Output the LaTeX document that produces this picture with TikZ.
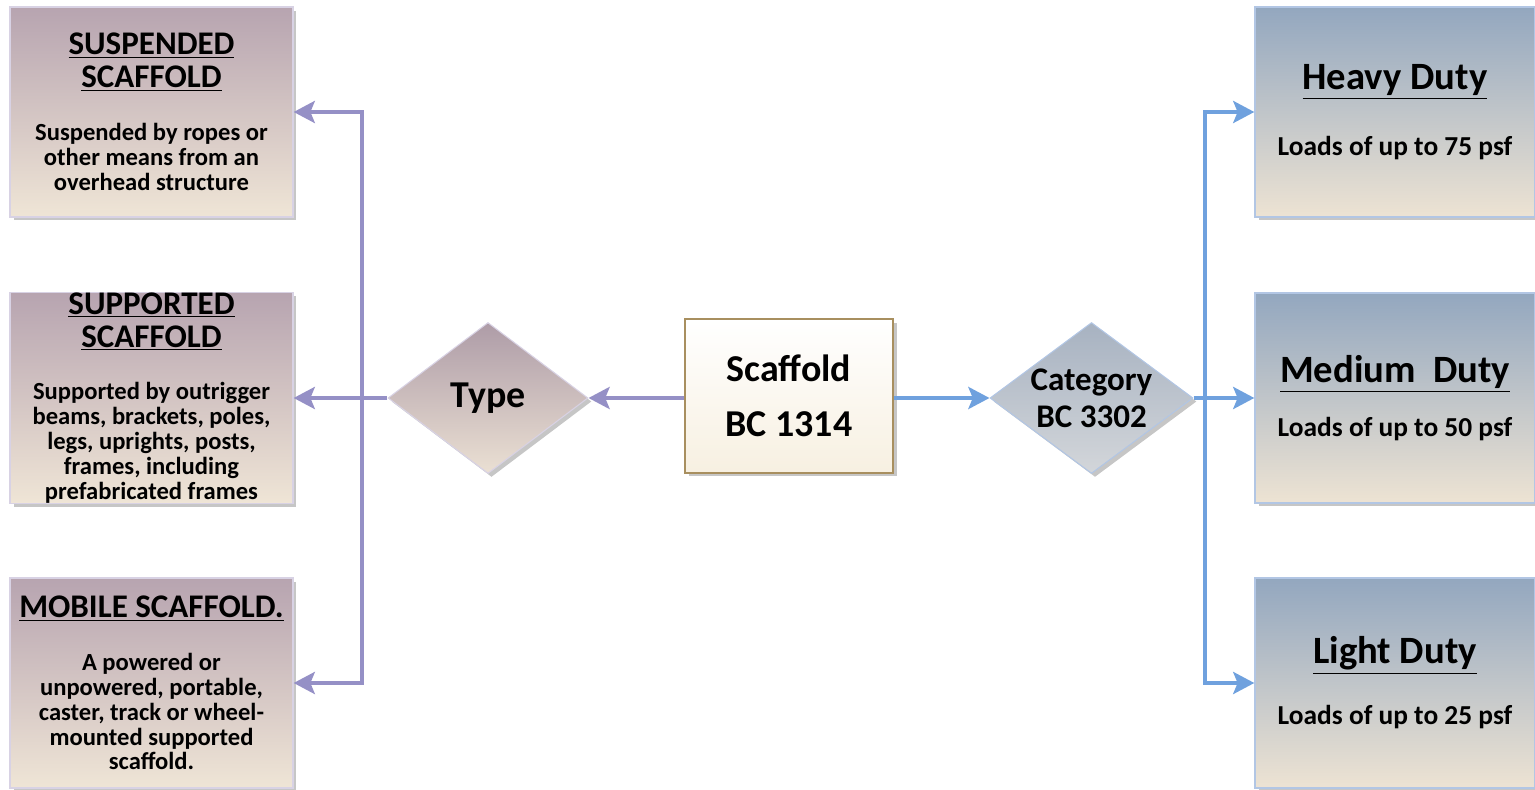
\documentclass[tikz,border=0pt]{standalone}
\usepackage{fontspec}
\setmainfont{Carlito}
\usepackage{xcolor}
\usepackage{tikz}
\usetikzlibrary{arrows.meta,positioning,calc,shapes.geometric,shadows}
\setlength{\parindent}{0pt}
\definecolor{tmauve}{HTML}{B7A4B0}
\definecolor{tbeige}{HTML}{EFE5D6}
\definecolor{tedge}{HTML}{D8D2E4}
\definecolor{csteel}{HTML}{93A7BF}
\definecolor{cbeige}{HTML}{EDE3D3}
\definecolor{cedge}{HTML}{B2C6E4}
\definecolor{cgray}{HTML}{A7B2C1}
\definecolor{cpale}{HTML}{D3D6DA}
\definecolor{tline}{HTML}{9590C6}
\definecolor{cline}{HTML}{6FA1DE}
\definecolor{sedge}{HTML}{A88F5F}
\definecolor{scream}{HTML}{F7F0E1}
\newcommand{\ttlfont}{\fontsize{18.8}{18.8}\selectfont}
\newcommand{\txtfont}{\fontsize{14}{14.2}\selectfont}
\newcommand{\bigttl}{\fontsize{22}{22}\selectfont}
\newcommand{\bigtxt}{\fontsize{15.6}{15.6}\selectfont}
\newcommand{\dutytext}[3]{{\bigttl\underline{#1}\par}\vspace{#2}{\bigtxt #3\par}}
\tikzset{
  shade box/.style={drop shadow={shadow xshift=2pt, shadow yshift=-2pt, opacity=0.45}},
  typebox/.style={rectangle, draw=tedge, line width=0.8pt, top color=tmauve, bottom color=tbeige,
    minimum width=5.66cm, minimum height=4.2cm, text width=5.6cm, inner sep=0pt,
    align=flush center, font=\bfseries, shade box},
  dutybox/.style={rectangle, draw=cedge, line width=0.8pt, top color=csteel, bottom color=cbeige,
    minimum width=5.6cm, minimum height=4.2cm, text width=5.5cm, inner sep=0pt,
    align=flush center, font=\bfseries, shade box},
  rootbox/.style={rectangle, draw=sedge, line width=0.9pt, top color=white, bottom color=scream,
    minimum width=4.16cm, minimum height=3.08cm, text width=4cm, inner sep=0pt,
    align=flush center, font=\bfseries\fontsize{21.6}{31.3}\selectfont, shade box},
  typediamond/.style={diamond, draw=tedge, line width=0.6pt, top color=tmauve!95!black, bottom color=tbeige!92!tmauve,
    minimum width=4cm, minimum height=3.02cm, inner sep=0pt, aspect=1.33,
    font=\bfseries\fontsize{21.6}{21.6}\selectfont, shade box},
  catdiamond/.style={diamond, draw=cedge, line width=0.6pt, top color=cgray, bottom color=cpale,
    minimum width=4.06cm, minimum height=3.02cm, inner sep=0pt, aspect=1.34, shade box},
  cattext/.style={align=flush center, text width=3cm, inner sep=0pt, font=\bfseries\fontsize{18.8}{21}\selectfont},
  typeline/.style={draw=tline, line width=2.8pt},
  catline/.style={draw=cline, line width=2.4pt},
}

\begin{document}
\begin{tikzpicture}[x=0.02cm, y=-0.02cm, >={Stealth[length=12pt, width=12.5pt, inset=2.5pt]}]
\clip (0,0) rectangle (1535,790);
% type branch
\node[typebox] (suspended) at (151.5,112)
  {{\ttlfont\underline{SUSPENDED}\\\underline{SCAFFOLD}\par}\vspace{15.8pt}{\txtfont Suspended by ropes or\\other means from an\\overhead structure\par}};
\node[typebox] (supported) at (151.5,398)
  {{\ttlfont\underline{SUPPORTED}\\\underline{SCAFFOLD}\par}\vspace{15.8pt}{\txtfont Supported by outrigger\\beams, brackets, poles,\\legs, uprights, posts,\\frames, including\\prefabricated frames\par}};
\node[typebox] (mobile) at (151.5,683)
  {{\ttlfont\underline{MOBILE SCAFFOLD.}\par}\vspace{15.8pt}{\txtfont A powered or\\unpowered, portable,\\caster, track or wheel-\\mounted supported\\scaffold.\par}};
\node[typediamond] (type) at (488,398) {Type};
\node[rootbox] (scaffold) at (789,396) {Scaffold\\BC 1314};
% category branch
\node[catdiamond, label={[cattext]center:Category\\BC 3302}] (category) at (1091.5,398) {};
\node[dutybox] (heavy) at (1395,112) {\dutytext{Heavy Duty}{20pt}{Loads of up to 75 psf}};
\node[dutybox] (medium) at (1395,398) {\dutytext{Medium\ \ Duty}{13pt}{Loads of up to 50 psf}};
\node[dutybox] (light) at (1395,683) {\dutytext{Light Duty}{17pt}{Loads of up to 25 psf}};
\coordinate (tjoin) at (362,398);
\coordinate (cjoin) at (1205,398);
\draw[typeline,->] (scaffold.west |- type.east) -- (type.east);
\draw[typeline,->] (type.west) -- (supported.east);
\draw[typeline,->] (tjoin) |- (suspended.east);
\draw[typeline,->] (tjoin) |- (mobile.east);
\draw[catline,->] (scaffold.east |- category.west) -- (category.west);
\draw[catline,->] (category.east) -- (medium.west);
\draw[catline,->] (cjoin) |- (heavy.west);
\draw[catline,->] (cjoin) |- (light.west);
\end{tikzpicture}
\end{document}
